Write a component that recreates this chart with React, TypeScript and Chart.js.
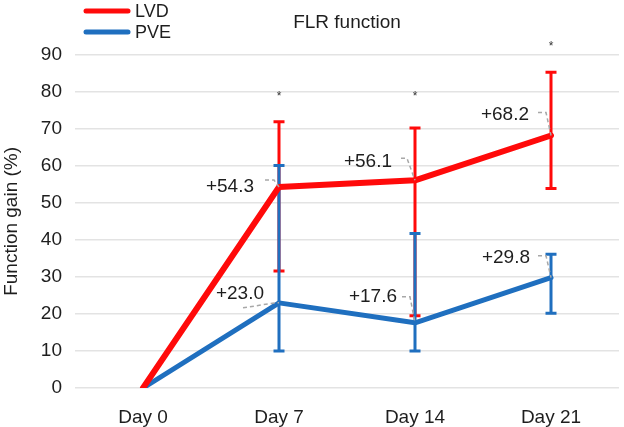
import { useEffect, useRef } from "react";
import { Chart, registerables } from "chart.js";

Chart.register(...registerables);

const categories = ["Day 0", "Day 7", "Day 14", "Day 21"];
const seriesNames = ["LVD", "PVE"];
const lvdValues = [0, 54.3, 56.1, 68.2];
const pveValues = [0, 23.0, 17.6, 29.8];
const lvdUpper = [null, 71.9, 70.2, 85.3];
const lvdLower = [null, 31.6, 19.5, 53.9];
const pveUpper = [null, 60.1, 41.7, 36.1];
const pveLower = [null, 10.0, 10.0, 20.2];
const asteriskLevels = [null, 79.2, 79.2, 92.6];
const yMin = 0;
const yMax = 90;
const yStep = 10;

const RED = "#ff0a0a";
const BLUE = "#1f6fbf";
const TEXT = "#1e1e1e";
const FONT = "'Liberation Sans', Arial, Helvetica, sans-serif";

// label placement styles (pixel offsets from the data point)
type LabelStyle = { dx: number; dy: number; path: number[][] } | null;
const lvdLabelStyle: LabelStyle[] = [
  null,
  { dx: -25, dy: 0, path: [[-14, -7], [-5, -7], [0, 0]] },
  { dx: -23, dy: -19, path: [[-14, -22], [-8, -22], [0, 0]] },
  { dx: -22, dy: -21, path: [[-13, -23], [-5, -23], [0, 0]] },
];
const pveLabelStyle: LabelStyle[] = [
  null,
  { dx: -15, dy: -9, path: [[-36, 5], [-4, 0], [0, 0]] },
  { dx: -18, dy: -26, path: [[-13, -26], [-5, -26], [0, 0]] },
  { dx: -21, dy: -20, path: [[-13, -22], [-5, -22], [0, 0]] },
];

const extras = {
  id: "extras",
  beforeDatasetsDraw(chart: any) {
    const ctx = chart.ctx;
    const x = chart.scales.x;
    const y = chart.scales.y;
    const sets = [
      { up: lvdUpper, lo: lvdLower, color: RED },
      { up: pveUpper, lo: pveLower, color: BLUE },
    ];
    ctx.save();
    sets.forEach((s) => {
      ctx.strokeStyle = s.color;
      ctx.lineWidth = 3;
      ctx.lineCap = "butt";
      s.up.forEach((u, i) => {
        const l = s.lo[i];
        if (u == null || l == null) return;
        const px = x.getPixelForValue(i);
        const yu = y.getPixelForValue(u);
        const yl = y.getPixelForValue(l);
        ctx.beginPath();
        ctx.moveTo(px, yu);
        ctx.lineTo(px, yl);
        ctx.moveTo(px - 5.5, yu);
        ctx.lineTo(px + 5.5, yu);
        ctx.moveTo(px - 5.5, yl);
        ctx.lineTo(px + 5.5, yl);
        ctx.stroke();
      });
    });
    ctx.restore();
  },
  afterDatasetsDraw(chart: any) {
    const ctx = chart.ctx;
    const x = chart.scales.x;
    const y = chart.scales.y;
    ctx.save();
    const groups = [
      { vals: lvdValues, style: lvdLabelStyle },
      { vals: pveValues, style: pveLabelStyle },
    ];
    groups.forEach((g) => {
      g.vals.forEach((v, i) => {
        const st = g.style[i];
        if (!st) return;
        const px = x.getPixelForValue(i);
        const py = y.getPixelForValue(v);
        ctx.strokeStyle = "#a8a8a8";
        ctx.lineWidth = 1.5;
        ctx.setLineDash([4, 3]);
        ctx.beginPath();
        st.path.forEach((p, k) => {
          if (k === 0) ctx.moveTo(px + p[0], py + p[1]);
          else ctx.lineTo(px + p[0], py + p[1]);
        });
        ctx.stroke();
        ctx.setLineDash([]);
        ctx.fillStyle = TEXT;
        ctx.font = `19px ${FONT}`;
        ctx.textAlign = "right";
        ctx.textBaseline = "middle";
        ctx.fillText("+" + v.toFixed(1), px + st.dx, py + st.dy);
      });
    });
    // significance asterisks
    ctx.fillStyle = "#333";
    ctx.font = `12px ${FONT}`;
    ctx.textAlign = "center";
    ctx.textBaseline = "middle";
    asteriskLevels.forEach((a, i) => {
      if (a == null) return;
      ctx.fillText("*", x.getPixelForValue(i), y.getPixelForValue(a) + 2);
    });
    // legend
    chart.data.datasets.forEach((ds: any, i: number) => {
      const ly = 11 + i * 21;
      ctx.strokeStyle = ds.borderColor;
      ctx.lineWidth = 5;
      ctx.lineCap = "round";
      ctx.beginPath();
      ctx.moveTo(86, ly);
      ctx.lineTo(128, ly);
      ctx.stroke();
      ctx.fillStyle = TEXT;
      ctx.font = `18px ${FONT}`;
      ctx.textAlign = "left";
      ctx.textBaseline = "middle";
      ctx.fillText(ds.label, 135, ly + 1);
    });
    ctx.restore();
  },
};

export default function App() {
  const ref = useRef<HTMLCanvasElement | null>(null);
  useEffect(() => {
    document.body.style.margin = "0";
    const c = ref.current;
    if (!c) return;
    Chart.defaults.font.family = FONT;
    const chart = new Chart(c, {
      type: "line",
      data: {
        labels: categories,
        datasets: [
          {
            label: seriesNames[0],
            data: lvdValues,
            borderColor: RED,
            backgroundColor: RED,
            borderWidth: 6,
            pointRadius: 0,
            tension: 0,
            borderJoinStyle: "round",
            borderCapStyle: "round",
          },
          {
            label: seriesNames[1],
            data: pveValues,
            borderColor: BLUE,
            backgroundColor: BLUE,
            borderWidth: 5,
            pointRadius: 0,
            tension: 0,
            borderJoinStyle: "round",
            borderCapStyle: "round",
          },
        ],
      },
      options: {
        animation: false,
        responsive: true,
        maintainAspectRatio: false,
        layout: { padding: { left: 0, right: 5, top: 0, bottom: 0 } },
        plugins: {
          legend: { display: false },
          tooltip: { enabled: false },
          title: {
            display: true,
            text: "FLR function",
            fullSize: false,
            color: TEXT,
            font: { size: 19, weight: "normal", family: FONT },
            padding: { top: 11, bottom: 21 },
          },
        },
        scales: {
          x: {
            offset: true,
            grid: { display: false },
            border: { display: false },
            ticks: { color: TEXT, font: { size: 19 }, padding: 10 },
            afterFit: (s: any) => {
              s.height = 39;
            },
          },
          y: {
            min: yMin,
            max: yMax,
            ticks: { stepSize: yStep, color: TEXT, font: { size: 19 }, padding: 13 },
            grid: { color: "#e3e3e3", lineWidth: 1.6, drawTicks: false },
            border: { display: false },
            title: {
              display: true,
              text: "Function gain (%)",
              color: TEXT,
              font: { size: 19 },
              padding: { top: 0, bottom: 0 },
            },
            afterFit: (s: any) => {
              s.width = 75;
            },
          },
        },
      },
      plugins: [extras],
    });
    return () => chart.destroy();
  }, []);
  return (
    <div style={{ width: 624, height: 427, position: "relative" }}>
      <canvas ref={ref} />
    </div>
  );
}
